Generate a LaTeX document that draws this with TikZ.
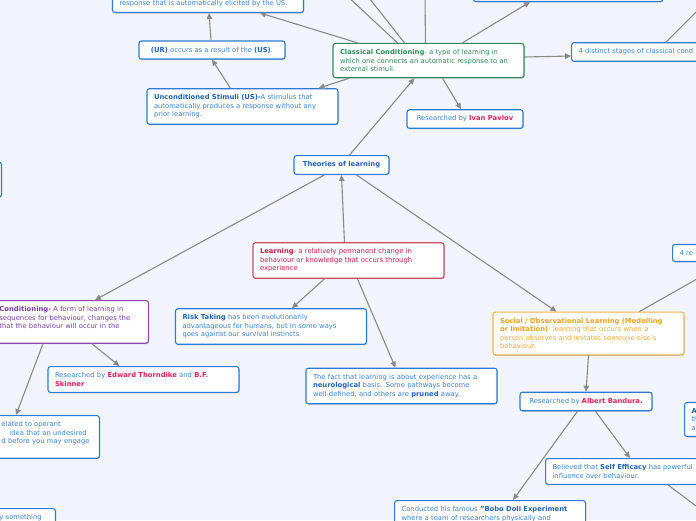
\documentclass[tikz,border=0pt]{standalone}
\usepackage{fontspec}
\setmainfont{DejaVu Sans}
\usetikzlibrary{arrows.meta,shadows}
\definecolor{bgcol}{HTML}{F2F4FC}
\definecolor{linegray}{HTML}{8A8A8A}
\definecolor{bordblue}{HTML}{2B7BD6}
\definecolor{txtblue}{HTML}{3A82D4}
\definecolor{boldblue}{HTML}{1F64B8}
\definecolor{ccgreen}{HTML}{2E8B57}
\definecolor{lrnred}{HTML}{C8184A}
\definecolor{lrnbord}{HTML}{CF4A64}
\definecolor{namepink}{HTML}{E0205A}
\definecolor{oppurple}{HTML}{7A3C9E}
\definecolor{opbord}{HTML}{8E4BB0}
\definecolor{sotext}{HTML}{F4A93A}
\definecolor{sobold}{HTML}{F0A020}
\definecolor{sobord}{HTML}{F5B547}
\newcommand\mmfs{\fontsize{6.8}{8.5}\selectfont}
\newcommand\bb[1]{\textbf{\color{boldblue}#1}}
\newcommand\nm[1]{\textbf{\color{namepink}#1}}
\tikzset{
  box/.style={draw=bordblue, fill=white, rounded corners=2.5pt, line width=1.1pt,
    inner xsep=7pt, inner ysep=6pt, font=\mmfs, text=txtblue, align=left,
    drop shadow={shadow xshift=0.5pt, shadow yshift=-0.9pt, opacity=0.22, fill=black}},
  wbox/.style={box, text width=177pt},
  conn/.style={draw=linegray, line width=1.1pt, -{Triangle[length=6pt,width=5.5pt]}},
  plainline/.style={draw=linegray, line width=1.1pt},
}
\begin{document}
\begin{tikzpicture}[x=1pt,y=-1pt]
\useasboundingbox (0,0) rectangle (696,520);
\fill[bgcol] (0,0) rectangle (696,520);
\clip (0,0) rectangle (696,520);

% nodes
\node[wbox, anchor=south] (resp) at (208,13) {~\\~\\~\\response that is automatically elicited by the US.};
\node[box, anchor=south, minimum width=190pt, minimum height=30pt] (topr) at (568,2) {};
\node[box, minimum width=146pt] (ur) at (212,50) {\bb{(UR)} occurs as a result of the \bb{(US)}.};
\node[wbox, draw=ccgreen, text=ccgreen] (cc) at (428.5,60.5) {\textbf{Classical Conditioning}- a type of learning in\\which one connects an automatic response to an\\external stimuli.};
\node[wbox, anchor=west] (stages) at (571,52) {4 distinct stages of classical cond};
\node[wbox] (us) at (242.5,106.5) {\bb{Unconditioned Stimuli (US)-}A stimulus that\\automatically produces a response without any\\prior learning.};
\node[box, minimum width=116pt] (pavlov) at (465,119) {Researched by \nm{Ivan Pavlov}};
\node[box, anchor=east, minimum width=60pt, minimum height=35pt] (leftn) at (2,179.5) {};
\node[box, minimum width=95pt] (theo) at (341.5,165) {\bb{Theories of learning}};
\node[wbox, draw=lrnbord, text=lrnred] (learn) at (348.5,260.5) {\textbf{Learning}- a relatively permanent change in\\behaviour or knowledge that occurs through\\experience};
\node[wbox, anchor=west] (fourre) at (672,253) {4 re};
\node[box, anchor=north east, text width=141pt, inner xsep=8pt, draw=opbord, text=oppurple] (oper) at (149,300) {\textbf{Conditioning-} A form of learning in\\sequences for behaviour, changes the\\that the behaviour will occur in the\\~};
\node[box, anchor=north east, text width=90pt, inner xsep=8pt] (punish) at (100,415) {elated to operant\\\hspace*{8pt}idea that an undesired\\d before you may engage\\~};
\node[box, anchor=north east, text width=48pt, inner xsep=8pt] (bleft) at (56,508) {y something\\~};
\node[wbox] (thorn) at (143.5,379.5) {Researched by \nm{Edward Thorndike} and \nm{B.F.}\\\nm{Skinner}};
\node[wbox] (risk) at (271,326.5) {\bb{Risk Taking} has been evolutionarily\\advantageous for humans, but in some ways\\goes against our survival instincts};
\node[wbox] (neuro) at (401.5,386) {The fact that learning is about experience has a\\\bb{neurological} basis. Some pathways become\\well-defined, and others are \bb{pruned} away.};
\node[wbox, draw=sobord, text=sotext] (social) at (588.5,333.5) {\textbf{\color{sobold}Social / Observational Learning (Modelling}\\\textbf{\color{sobold}or Imitation)}- learning that occurs when a\\person observes and imitates someone else's\\behaviour.};
\node[box, minimum width=132pt] (band) at (586,401.5) {Researched by \nm{Albert Bandura.}};
\node[wbox, anchor=west] (abox) at (684,419.5) {\bb{A}\\th\\a};
\node[wbox, anchor=north west] (self) at (545,458) {Believed that \bb{Self Efficacy} has powerful\\influence over behaviour.};
\node[wbox, anchor=north west] (bobo) at (394,500) {Conducted his famous \bb{"Bobo Doll Experiment}\\where a team of researchers physically and\\~};

% free ends
\coordinate (offa) at (345,-6);
\coordinate (offb) at (366,-6);
\coordinate (offc) at (425,-6);
\coordinate (offd) at (702,6);
\coordinate (offe) at (704,275);
\coordinate (offf) at (704,512);

% connectors
\draw[conn] ([xshift=25pt]cc.north west) -- ([xshift=148pt]resp.south west);
\draw[plainline] ([xshift=65pt]cc.north west) -- (offa);
\draw[plainline] ([xshift=72pt]cc.north west) -- (offb);
\draw[plainline] ([xshift=93pt]cc.north west) -- (offc);
\draw[conn] ([xshift=130pt]cc.north west) -- ([xshift=-38pt]topr.south);
\draw[conn] ([yshift=3.5pt]cc.east) -- ([yshift=-4pt]stages.west);
\draw[plainline] ([xshift=95pt]stages.north west) -- (offd);
\draw[conn] ([xshift=17pt]cc.south west) -- ([xshift=-20pt]us.north east);
\draw[conn] ([xshift=84pt]us.north west) -- (ur.south);
\draw[conn] ([xshift=-1pt]ur.north) -- ([xshift=97pt]resp.south west);
\draw[conn] ([xshift=110pt]cc.south west) -- ([xshift=-4pt]pavlov.north);
\draw[conn] ([xshift=56pt]theo.north west) -- ([xshift=82pt]cc.south west);
\draw[conn] ([xshift=92pt]learn.north west) -- (theo.south);
\draw[conn] ([xshift=31pt]theo.south west) -- ([xshift=-54pt]oper.north east);
\draw[conn] ([xshift=63pt]theo.south west) -- ([xshift=64pt]social.north west);
\draw[conn] ([xshift=72pt]learn.south west) -- ([xshift=117pt]risk.north west);
\draw[conn] ([xshift=105pt]learn.south west) -- ([xshift=90pt]neuro.north west);
\draw[conn] ([xshift=-57pt]oper.south east) -- ([xshift=72pt]thorn.north west);
\draw[conn] ([xshift=-106pt]oper.south east) -- ([xshift=-84pt]punish.north east);
\draw[plainline] ([xshift=147pt]social.north west) -- (offe);
\draw[conn] (social.south) -- (band.north);
\draw[conn] ([xshift=58pt]band.south west) -- ([xshift=119pt]bobo.north west);
\draw[conn] ([xshift=76pt]band.south west) -- ([xshift=85pt]self.north west);
\draw[plainline] ([xshift=123pt]self.south west) -- (offf);
\end{tikzpicture}
\end{document}
